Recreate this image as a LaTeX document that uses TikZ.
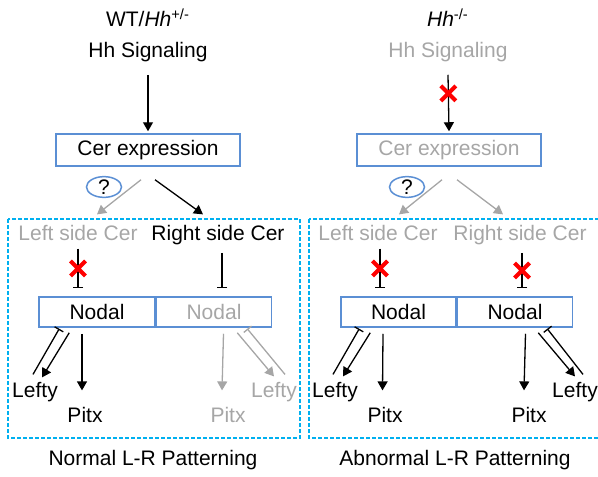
\documentclass[tikz,border=0pt]{standalone}
\usepackage{fontspec}
\setmainfont{Liberation Sans}
\usetikzlibrary{arrows.meta,shapes.geometric,shapes.misc}

\definecolor{boxblue}{RGB}{91,143,212}
\definecolor{framecyan}{RGB}{0,176,240}
\definecolor{offgray}{RGB}{166,166,166}
\definecolor{xred}{RGB}{255,0,0}

\begin{document}
\begin{tikzpicture}[x=0.5pt,y=-0.5pt,
    font=\fontsize{10.5}{12.6}\selectfont,
    lbl/.style={anchor=base, inner sep=3pt},
    box/.style={draw=boxblue, line width=0.75pt, inner sep=0pt, minimum height=15pt},
    qmark/.style={ellipse, draw=boxblue, line width=0.75pt, inner sep=0pt,
        minimum width=17.5pt, minimum height=10pt},
    act/.style={-{Triangle[length=4.5pt,width=5pt]}, line width=0.65pt},
    inh/.style={-{Bar[width=5pt]}, line width=0.65pt},
    xmark/.style={cross out, draw=xred, line width=2pt, minimum size=5.5pt, inner sep=0pt},
    frame/.style={framecyan, line width=0.6pt, dash pattern=on 2pt off 1pt},
    off/.style={offgray}
]

    \useasboundingbox (0,0) rectangle (598,476);

    % dashed frames
    \draw[frame] (8,219) rectangle (300,438);
    \draw[frame] (309,219) rectangle (601,438);

    % left panel: WT
    \node[lbl] (titleL) at (148,27) {WT/\textit{Hh}\textsuperscript{+/-}};
    \node[lbl] (hhL) at (148,58) {Hh Signaling};
    \node[box, minimum width=92pt, minimum height=16pt] (cerL) at (148,150) {Cer expression};
    \node[qmark] (qL) at (104,187) {?};
    \node[lbl, off] (leftcerL) at (78,240) {Left side Cer};
    \node[lbl] (rightcerL) at (218,240) {Right side Cer};
    \node[box, minimum width=58pt] (nodalLL) at (97,312) {Nodal};
    \node[box, minimum width=57.5pt, anchor=west, text=offgray] (nodalLR) at (nodalLL.east) {Nodal};
    \node[lbl] (leftyL) at (35,397) {Lefty};
    \node[lbl] (pitxL) at (85,422) {Pitx};
    \node[lbl, off] (pitxLR) at (228,422) {Pitx};
    \node[lbl, off] (leftyLR) at (274,397) {Lefty};
    \node[lbl] (capL) at (153,465) {Normal L-R Patterning};

    \draw[act] ([yshift=-3pt]hhL.south) -- ([yshift=1pt]cerL.north);
    \draw[act, off] ([xshift=-3.5pt,yshift=-6.5pt]cerL.south) -- ([xshift=9.5pt,yshift=2pt]leftcerL.north);
    \draw[act] ([xshift=3.5pt,yshift=-6.5pt]cerL.south) -- ([xshift=-7.5pt,yshift=2pt]rightcerL.north);
    \draw[inh] ([yshift=-1pt]leftcerL.south) -- ([yshift=4pt]leftcerL.south |- nodalLL.north)
        node[xmark, pos=0.5] (xL) {};
    \draw[inh] ([xshift=2pt,yshift=-1pt]rightcerL.south) -- ([xshift=2pt,yshift=4pt]rightcerL.south |- nodalLR.north);

    % nodal targets, left panel
    \draw[inh] ([xshift=-1pt,yshift=0.5pt]leftyL.north) -- ([xshift=10.5pt,yshift=-0.5pt]nodalLL.south west);
    \draw[act] ([xshift=15.5pt,yshift=-2.5pt]nodalLL.south west) -- ([xshift=3.5pt,yshift=-1pt]leftyL.north);
    \draw[act] ([xshift=-7.5pt,yshift=-3pt]nodalLL.south) -- ([xshift=-1.5pt,yshift=5pt]pitxL.north);
    \draw[act, off] ([xshift=4.75pt,yshift=-3pt]nodalLR.south) -- ([xshift=-3pt,yshift=5pt]pitxLR.north);
    \draw[act, off] ([xshift=-17.5pt,yshift=-2.5pt]nodalLR.south east) -- ([yshift=-0.5pt]leftyLR.north);
    \draw[inh, off] ([xshift=5.5pt,yshift=0.5pt]leftyLR.north) -- ([xshift=-12.5pt,yshift=-0.5pt]nodalLR.south east);

    % right panel: mutant
    \node[lbl] (titleR) at (448,27) {\textit{Hh}\textsuperscript{-/-}};
    \node[lbl, off] (hhR) at (448,58) {Hh Signaling};
    \node[box, minimum width=92pt, minimum height=16pt, text=offgray] (cerR) at (449,150) {Cer expression};
    \node[qmark] (qR) at (407,187) {?};
    \node[lbl, off] (leftcerR) at (378,240) {Left side Cer};
    \node[lbl, off] (rightcerR) at (520,240) {Right side Cer};
    \node[box, minimum width=57.5pt] (nodalRL) at (398.5,312) {Nodal};
    \node[box, minimum width=57.5pt, anchor=west] (nodalRR) at (nodalRL.east) {Nodal};
    \node[lbl] (leftyRL) at (335,397) {Lefty};
    \node[lbl] (pitxRL) at (385,422) {Pitx};
    \node[lbl] (pitxRR) at (529,422) {Pitx};
    \node[lbl] (leftyRR) at (575,397) {Lefty};
    \node[lbl] (capR) at (455,465) {Abnormal L-R Patterning};

    \draw[act] ([yshift=-3pt]hhR.south) -- ([yshift=1pt]cerR.north)
        node[xmark, pos=0.33] (xR) {};
    \draw[act, off] ([xshift=-3.5pt,yshift=-6.5pt]cerR.south) -- ([xshift=10.5pt,yshift=2pt]leftcerR.north);
    \draw[act, off] ([xshift=4pt,yshift=-6.5pt]cerR.south) -- ([xshift=-8.5pt,yshift=2pt]rightcerR.north);
    \foreach \src/\dst in {leftcerR/nodalRL, rightcerR/nodalRR} {
        \draw[inh] ([xshift=1pt,yshift=-1pt]\src.south) -- ([xshift=1pt,yshift=4pt]\src.south |- \dst.north)
            node[xmark, pos=0.5] (x\src) {};
    }

    % nodal targets, right panel
    \draw[inh] ([xshift=-1pt,yshift=0.5pt]leftyRL.north) -- ([xshift=9.5pt,yshift=-0.5pt]nodalRL.south west);
    \draw[act] ([xshift=15pt,yshift=-2.5pt]nodalRL.south west) -- ([xshift=4pt,yshift=-0.5pt]leftyRL.north);
    \draw[act] ([xshift=-7.75pt,yshift=-3pt]nodalRL.south) -- ([xshift=-1.25pt,yshift=5pt]pitxRL.north);
    \draw[act] ([xshift=5.25pt,yshift=-3pt]nodalRR.south) -- ([xshift=-2.5pt,yshift=5pt]pitxRR.north);
    \draw[act] ([xshift=-17.5pt,yshift=-2.5pt]nodalRR.south east) -- ([yshift=-0.5pt]leftyRR.north);
    \draw[inh] ([xshift=4pt,yshift=0.5pt]leftyRR.north) -- ([xshift=-13pt,yshift=-0.5pt]nodalRR.south east);

\end{tikzpicture}
\end{document}
